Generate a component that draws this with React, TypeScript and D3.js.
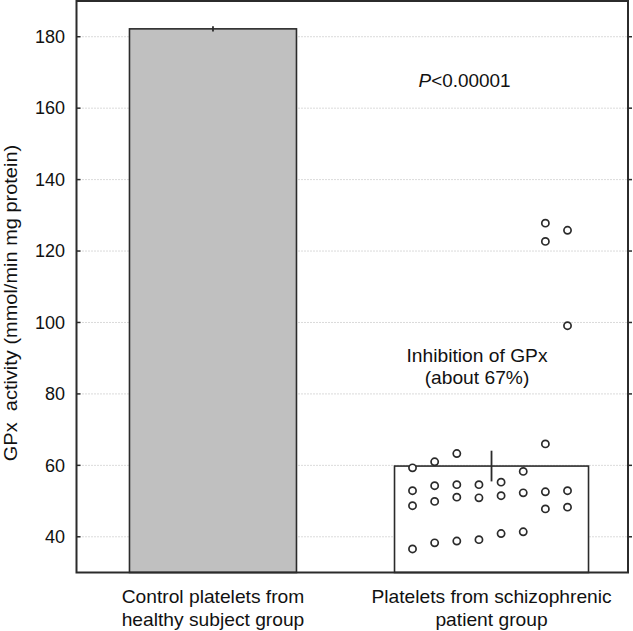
import { useEffect, useRef } from "react";
import * as d3 from "d3";

// groups (bars)
const groups = ["control", "patient"];
const groupLabels = [
  ["Control platelets from", "healthy subject group"],
  ["Platelets from schizophrenic", "patient group"],
];
const groupMeans = [182.2, 59.8];
const groupErrors = [0.75, 4.3];

// y axis
const yTicks = [40, 60, 80, 100, 120, 140, 160, 180];
const yTitle = "GPx\u00a0\u00a0activity (mmol/min mg protein)";

// individual patient values, column = jitter slot inside the patient bar
const patientColumns = [
  0, 0, 0, 0,
  1, 1, 1, 1,
  2, 2, 2, 2,
  3, 3, 3,
  4, 4, 4,
  5, 5, 5,
  6, 6, 6, 6, 6,
  7, 7, 7, 7,
];
const patientValues = [
  59.3, 52.9, 48.7, 36.6,
  61.0, 54.3, 49.9, 38.3,
  63.3, 54.6, 51.1, 38.8,
  54.6, 50.9, 39.2,
  55.3, 51.5, 40.9,
  58.3, 52.3, 41.4,
  127.8, 122.7, 66.0, 52.6, 47.8,
  125.8, 99.1, 52.9, 48.3,
];

const pText = ["P", "<0.00001"];
const noteLines = ["Inhibition of GPx", "(about 67%)"];

export default function App() {
  const ref = useRef<SVGSVGElement>(null);

  useEffect(() => {
    const svg = d3.select(ref.current);
    svg.selectAll("*").remove();

    const width = 633, height = 631;
    const left = 76.5, right = 628, top = 1, bottom = 572.5;
    const ink = "#2b2b2b";
    const font = "'Liberation Sans', Arial, Helvetica, sans-serif";

    const y = d3.scaleLinear().domain([30, 190]).range([bottom, top]);
    const x = d3.scalePoint<string>().domain(groups).range([left, right]).padding(0.49);
    const barWidths = [167, 194];

    const txt = (g: any, tx: number, ty: number, s: string, opts: any = {}) => {
      const { anchor = "middle", rot = 0, size = 17.8, stretch = 1.08 } = opts;
      return g.append("text")
        .attr("transform", `translate(${tx},${ty})${rot ? ` rotate(${rot})` : ""} scale(${stretch},1)`)
        .attr("text-anchor", anchor)
        .style("font-family", font)
        .style("font-size", `${size}px`)
        .style("fill", "#111")
        .text(s);
    };

    svg.attr("width", width).attr("height", height);
    svg.append("rect").attr("width", width).attr("height", height).attr("fill", "#fff");

    // gridlines
    svg.append("g").selectAll("line").data(yTicks).enter().append("line")
      .attr("x1", left).attr("x2", right)
      .attr("y1", d => y(d)).attr("y2", d => y(d))
      .attr("stroke", "#b5b5b5").attr("stroke-width", 1).attr("stroke-dasharray", "1,2");

    // bars
    svg.append("g").selectAll("rect").data(groups).enter().append("rect")
      .attr("x", (d, i) => x(d)! - barWidths[i] / 2)
      .attr("width", (d, i) => barWidths[i])
      .attr("y", (d, i) => y(groupMeans[i]))
      .attr("height", (d, i) => bottom - y(groupMeans[i]))
      .attr("fill", (d, i) => (i === 0 ? "#c0c0c0" : "#fff"))
      .attr("stroke", ink).attr("stroke-width", 1.6);

    // error bars
    svg.append("g").selectAll("line").data(groups).enter().append("line")
      .attr("x1", d => x(d)!).attr("x2", d => x(d)!)
      .attr("y1", (d, i) => y(groupMeans[i] + groupErrors[i]))
      .attr("y2", (d, i) => y(groupMeans[i] - groupErrors[i]))
      .attr("stroke", ink).attr("stroke-width", 1.8);

    // patient dots
    const cx = x("patient")!;
    const col = d3.scalePoint<number>().domain(d3.range(8)).range([cx - 79, cx + 76]);
    svg.append("g").selectAll("circle").data(patientValues).enter().append("circle")
      .attr("cx", (d, i) => col(patientColumns[i])!)
      .attr("cy", d => y(d))
      .attr("r", 3.6)
      .attr("fill", "#fff").attr("stroke", ink).attr("stroke-width", 1.7);

    // frame
    svg.append("rect")
      .attr("x", left).attr("y", top).attr("width", right - left).attr("height", bottom - top)
      .attr("stroke", ink).attr("stroke-width", 2).attr("fill", "none");

    // ticks + labels
    const ticks = svg.append("g");
    yTicks.forEach(t => {
      ticks.append("line").attr("x1", left).attr("x2", left + 4).attr("y1", y(t)).attr("y2", y(t))
        .attr("stroke", ink).attr("stroke-width", 1.5);
      ticks.append("line").attr("x1", right).attr("x2", right + 4).attr("y1", y(t)).attr("y2", y(t))
        .attr("stroke", ink).attr("stroke-width", 1.5);
      txt(ticks, 65, y(t) + 6.3, String(t), { anchor: "end", size: 18, stretch: 1 });
    });

    // y title
    txt(svg, 17, 303, yTitle, { rot: -90, size: 18.5 });

    // x labels
    groups.forEach((g, i) => {
      groupLabels[i].forEach((line, j) => txt(svg, x(g)!, 603 + j * 22.5, line));
    });

    // annotations
    const p = txt(svg, 464.5, 87, "", { size: 17.5 });
    p.append("tspan").style("font-style", "italic").text(pText[0]);
    p.append("tspan").text(pText[1]);
    noteLines.forEach((line, j) => txt(svg, 477, 362 + j * 22, line));
  }, []);

  return (
    <div style={{ position: "absolute", left: 0, top: 0, width: 633, height: 631, overflow: "hidden" }}>
      <svg ref={ref} style={{ display: "block" }} />
    </div>
  );
}
